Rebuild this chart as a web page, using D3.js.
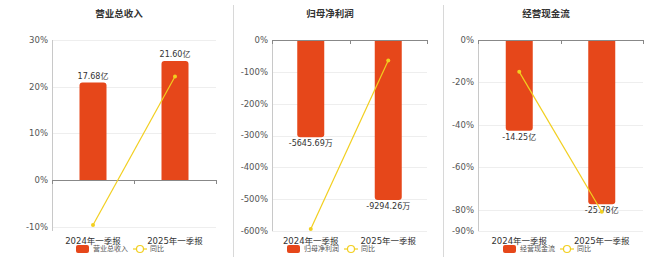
<!DOCTYPE html>
<html>
<head>
<meta charset="utf-8">
<script src="https://cdn.jsdelivr.net/npm/d3@7"></script>
<style>
  body { margin: 0; background: #fff; }
  text { font-family: "DejaVu Sans", "Noto Sans CJK SC", sans-serif; }
</style>
</head>
<body>
<svg width="660" height="257"></svg>
<script>
var categories = ["2024年一季报", "2025年一季报"];

var titles = ["营业总收入", "归母净利润", "经营现金流"];
var revenue = [17.68, 21.60];
var revenueYoy = [-9.6, 22.2];
var profit = [-5645.69, -9294.26];
var profitYoy = [-594, -64.6];
var cash = [-14.25, -25.78];
var cashYoy = [-15, -80.9];

var barLabels = [["17.68亿", "21.60亿"], ["-5645.69万", "-9294.26万"], ["-14.25亿", "-25.78亿"]];
var pctTicks = [[30, 20, 10, 0, -10], [0, -100, -200, -300, -400, -500, -600], [0, -20, -40, -60, -80, -90]];
// hidden value axis for the bars
var barDomains = [[0, 25.4], [-11100, 0], [-30, 0]];

var svg = d3.select("svg");
var barColor = "#e6471a", lineColor = "#f2cf1f";

var panels = [
  {title: titles[0], bars: revenue, yoy: revenueYoy, left: 52, right: 216, pctDomain: [-10.9, 30], center: 119},
  {title: titles[1], bars: profit, yoy: profitYoy, left: 272, right: 427, pctDomain: [-600, 0], center: 330},
  {title: titles[2], bars: cash, yoy: cashYoy, left: 478, right: 643, pctDomain: [-90, 0], center: 546}
];
var plotTop = 40, plotBottom = 231;

// separators
[233, 443].forEach(function(x) {
  svg.append("line").attr("x1", x + 0.5).attr("x2", x + 0.5).attr("y1", 5).attr("y2", 257)
    .attr("stroke", "#d8d8d8");
});

panels.forEach(function(p, i) {
  var g = svg.append("g");
  var x = d3.scaleBand().domain(categories).range([p.left, p.right]);
  var y = d3.scaleLinear().domain(p.pctDomain).range([plotBottom, plotTop]);
  var yb = d3.scaleLinear().domain(barDomains[i]).range(i == 0 ? [y(0), plotTop] : [plotBottom, y(0)]);
  var bw = 27;

  g.append("text").attr("x", p.center).attr("y", 17).attr("text-anchor", "middle")
    .attr("font-size", 9.5).attr("font-weight", "bold").attr("fill", "#333").text(p.title);

  // grid
  g.selectAll(".grid").data(pctTicks[i]).enter().append("line")
    .attr("x1", p.left).attr("x2", p.right)
    .attr("y1", function(d) { return Math.round(y(d)) + 0.5; })
    .attr("y2", function(d) { return Math.round(y(d)) + 0.5; })
    .attr("stroke", "#eeeeee");

  // y axis
  g.append("line").attr("x1", p.left + 0.5).attr("x2", p.left + 0.5).attr("y1", plotTop).attr("y2", plotBottom)
    .attr("stroke", "#c8c8c8");
  g.selectAll(".tick").data(pctTicks[i]).enter().append("text")
    .attr("x", p.left - 4).attr("y", function(d) { return y(d); }).attr("dy", "0.35em")
    .attr("text-anchor", "end").attr("font-size", 8.5).attr("fill", "#555")
    .text(function(d) { return d + "%"; });

  // bars
  g.selectAll(".bar").data(p.bars).enter().append("path")
    .attr("d", function(d, j) {
      var cx = x(categories[j]) + x.bandwidth() / 2;
      var y0 = yb(0), y1 = yb(d);
      var r = 3, x0 = cx - bw / 2, x1 = cx + bw / 2;
      var path = d3.path();
      if (y1 < y0) {
        path.moveTo(x0, y0); path.lineTo(x0, y1 + r);
        path.quadraticCurveTo(x0, y1, x0 + r, y1); path.lineTo(x1 - r, y1);
        path.quadraticCurveTo(x1, y1, x1, y1 + r); path.lineTo(x1, y0);
      } else {
        path.moveTo(x0, y0); path.lineTo(x0, y1 - r);
        path.quadraticCurveTo(x0, y1, x0 + r, y1); path.lineTo(x1 - r, y1);
        path.quadraticCurveTo(x1, y1, x1, y1 - r); path.lineTo(x1, y0);
      }
      path.closePath();
      return path.toString();
    })
    .attr("fill", barColor);

  // zero axis line
  g.append("line").attr("x1", p.left).attr("x2", p.right)
    .attr("y1", Math.round(y(0)) + 0.5).attr("y2", Math.round(y(0)) + 0.5).attr("stroke", "#888");
  g.selectAll(".xt").data([p.left, (p.left + p.right) / 2, p.right]).enter().append("line")
    .attr("x1", function(d) { return Math.round(d) + 0.5; }).attr("x2", function(d) { return Math.round(d) + 0.5; })
    .attr("y1", Math.round(y(0))).attr("y2", Math.round(y(0)) + 4).attr("stroke", "#888");

  // bar labels
  g.selectAll(".bl").data(p.bars).enter().append("text")
    .attr("x", function(d, j) { return x(categories[j]) + x.bandwidth() / 2; })
    .attr("y", function(d) { return d > 0 ? yb(d) - 4 : yb(d) + 9; })
    .attr("text-anchor", "middle").attr("font-size", 8).attr("fill", "#333")
    .text(function(d, j) { return barLabels[i][j]; });

  // yoy line
  var line = d3.line()
    .x(function(d, j) { return x(categories[j]) + x.bandwidth() / 2; })
    .y(function(d) { return y(d); });
  g.append("path").datum(p.yoy).attr("d", line).attr("fill", "none")
    .attr("stroke", lineColor).attr("stroke-width", 1.2);
  g.selectAll(".pt").data(p.yoy).enter().append("circle")
    .attr("cx", function(d, j) { return x(categories[j]) + x.bandwidth() / 2; })
    .attr("cy", function(d) { return y(d); }).attr("r", 2).attr("fill", lineColor);

  // category labels
  g.selectAll(".cat").data(categories).enter().append("text")
    .attr("x", function(d) { return x(d) + x.bandwidth() / 2; }).attr("y", 244)
    .attr("text-anchor", "middle").attr("font-size", 8.5).attr("fill", "#333")
    .text(function(d) { return d; });

  // legend
  var lg = g.append("g").attr("transform", "translate(" + (p.center - 43) + ",249)");
  lg.append("rect").attr("x", 0).attr("y", -4).attr("width", 13).attr("height", 8).attr("rx", 2)
    .attr("fill", barColor);
  lg.append("text").attr("x", 17).attr("y", 0).attr("dy", "0.35em").attr("font-size", 7)
    .attr("fill", "#555").text(p.title);
  lg.append("line").attr("x1", 57).attr("x2", 71).attr("y1", 0).attr("y2", 0)
    .attr("stroke", lineColor).attr("stroke-width", 1.2);
  lg.append("circle").attr("cx", 64).attr("cy", 0).attr("r", 3.5).attr("fill", "#fff")
    .attr("stroke", lineColor).attr("stroke-width", 1.2);
  lg.append("text").attr("x", 74).attr("y", 0).attr("dy", "0.35em").attr("font-size", 7)
    .attr("fill", "#555").text("同比");
});
</script>
</body>
</html>
